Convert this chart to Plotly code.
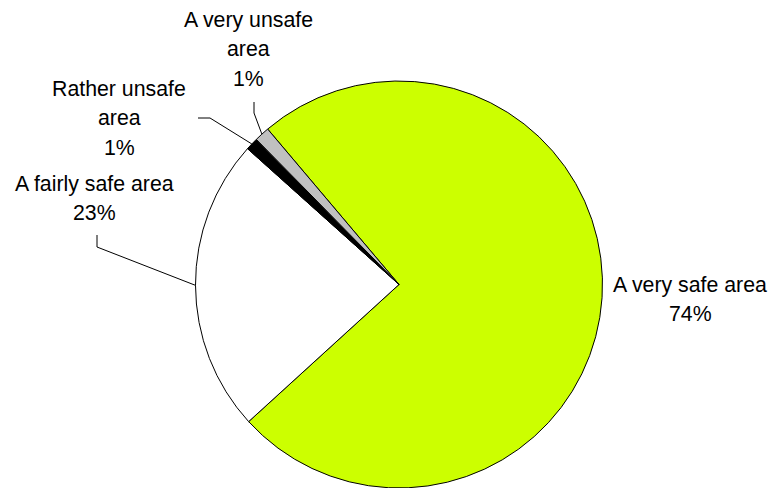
import math
import plotly.graph_objects as go

# ---- data ----
categories = ["A very safe area", "A fairly safe area", "Rather unsafe area", "A very unsafe area"]
values = [74.4, 23.4, 1.0, 1.2]
label_lines = [["A very safe area"], ["A fairly safe area"], ["Rather unsafe", "area"], ["A very unsafe", "area"]]

# ---- style / layout ----
colors = ["#CCFF00", "#FFFFFF", "#000000", "#C0C0C0"]
W, H = 771, 488
CX, CY, R = 399, 284.5, 203.5   # screen pixels
ROT = -40.2
FONT = dict(family="Liberation Sans, Arial, sans-serif", size=21.3, color="#000000")
LINE_GAP = 29.5
# label block: (x center, y of first line) in pixels
label_pos = [(690, 284.5), (94, 183.5), (119, 89), (248, 20)]
# leader line elbows (start, bend) in pixels; None = no leader
leader = [None, [(97, 235), (97, 247)], [(198, 118), (210, 118)], [(254, 102), (254, 113)]]


def px(x):
    return x / W


def py(y):
    return 1 - y / H


fig = go.Figure(go.Pie(
    labels=categories, values=values, sort=False, direction="clockwise", rotation=ROT,
    marker=dict(colors=colors, line=dict(color="#000000", width=1)),
    textinfo="none", hoverinfo="label+percent", showlegend=False,
    domain=dict(x=[px(CX - R), px(CX + R)], y=[0, py(CY - R)]),
))

total = sum(values)
annotations = []
shapes = []
cum = 0.0
for i, (cat, v) in enumerate(zip(categories, values)):
    mid = math.radians(ROT + (cum + v / 2) / total * 360)
    cum += v
    ex, ey = CX + R * math.sin(mid), CY - R * math.cos(mid)
    lines = label_lines[i] + [f"{round(v / total * 100)}%"]
    lx, ly = label_pos[i]
    for k, t in enumerate(lines):
        annotations.append(dict(
            x=px(lx), y=py(ly + k * LINE_GAP), xref="paper", yref="paper",
            text=t, showarrow=False, xanchor="center", yanchor="middle", font=FONT,
        ))
    if leader[i]:
        (x0, y0), (x1, y1) = leader[i]
        shapes.append(dict(
            type="path", xref="paper", yref="paper",
            path=f"M {px(x0)} {py(y0)} L {px(x1)} {py(y1)} L {px(ex)} {py(ey)}",
            line=dict(color="#000000", width=1),
        ))

fig.update_layout(
    width=W, height=H, margin=dict(l=0, r=0, t=0, b=0),
    paper_bgcolor="#FFFFFF", plot_bgcolor="#FFFFFF",
    annotations=annotations, shapes=shapes,
)

fig.write_html(
    "out.html",
    config={"displayModeBar": False},
    post_script="document.body.style.margin='0';document.body.style.overflow='hidden';",
)
